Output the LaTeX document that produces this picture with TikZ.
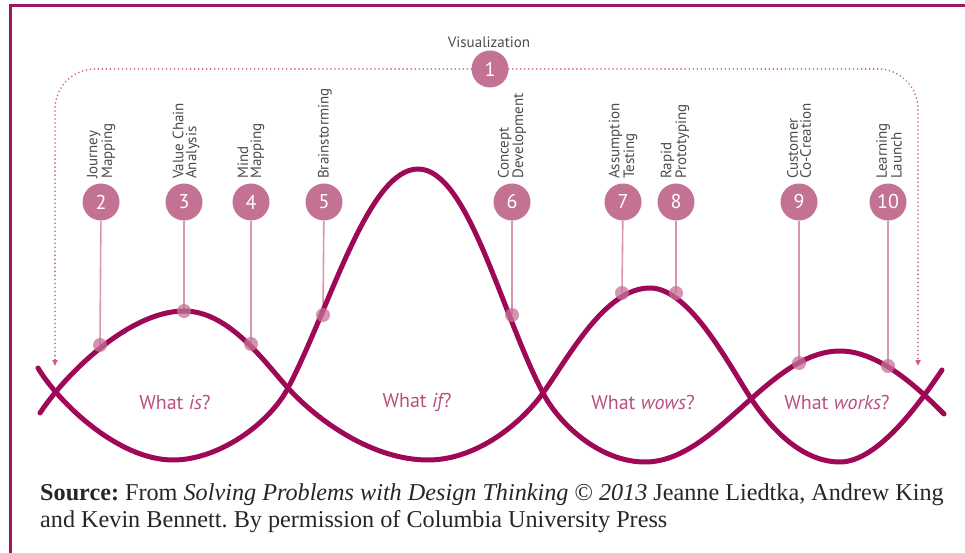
\documentclass[tikz,border=0pt]{standalone}
\usepackage{fontspec}
\setmainfont{Liberation Serif}
\setsansfont{PT Sans}
\usetikzlibrary{arrows.meta}
\definecolor{framec}{RGB}{155,25,95}
\definecolor{wavec}{RGB}{158,8,86}
\definecolor{bubblec}{RGB}{196,114,148}
\definecolor{pinc}{RGB}{214,150,178}
\definecolor{dotc}{RGB}{205,90,138}
\definecolor{phasec}{RGB}{184,80,128}
\definecolor{lblgray}{RGB}{75,75,75}
\begin{document}
\frenchspacing
\begin{tikzpicture}[x=1pt,y=-1pt,
  bubble/.style={circle,fill=bubblec,minimum size=37pt,inner sep=0pt,text=white,font=\sffamily\fontsize{20}{20}\selectfont},
  tool/.style={rotate=90,anchor=west,align=left,inner sep=0pt,text=lblgray,font=\sffamily\fontsize{15}{13}\selectfont},
  wave/.style={draw=wavec,line width=5pt,line cap=round},
  pinline/.style={draw=pinc,line width=1.6pt},
  hit/.style={circle,fill=bubblec,fill opacity=0.75,minimum size=14pt,inner sep=0pt},
  phaselbl/.style={text=phasec,font=\sffamily\fontsize{20}{20}\selectfont},
  dotline/.style={draw=dotc,line width=1.8pt,dash pattern=on 0.01pt off 4pt,line cap=round,rounded corners=40pt},
  framel/.style={draw=framec,line width=3pt},
  src/.style={anchor=base west,align=left,inner sep=0pt,text=black!85,font=\rmfamily\fontsize{24.2}{26.5}\selectfont}
]
\useasboundingbox (0,0) rectangle (965,553);
% frame
\coordinate (f1) at (10.5,553);
\coordinate (f2) at (10.5,6);
\coordinate (f3) at (965,6);
\draw[framel] (f1) -- (f2) -- (f3);

% visualization
\node[bubble] (b1) at (490,69) {1};
\node[text=lblgray,font=\sffamily\fontsize{15}{15}\selectfont] (vis) at (489,42) {Visualization};
\coordinate (la) at (55,366);
\coordinate (lc) at (55,69);
\coordinate (ra) at (918,366);
\coordinate (rc) at (918,69);
\draw[dotline,-{Triangle[length=6pt,width=5pt]}] (b1.west) -- (lc) -- (la);
\draw[dotline,-{Triangle[length=6pt,width=5pt]}] (b1.east) -- (rc) -- (ra);

% bubbles
\node[bubble] (b2) at (101,202) {2};
\node[bubble] (b3) at (184,202) {3};
\node[bubble] (b4) at (251,202) {4};
\node[bubble] (b5) at (324,202) {5};
\node[bubble] (b6) at (512,202) {6};
\node[bubble] (b7) at (623,202) {7};
\node[bubble] (b8) at (676,202) {8};
\node[bubble] (b9) at (799,202) {9};
\node[bubble] (b10) at (888,202) {10};

% tool labels
\node[tool] (t2) at (101,179) {Journey\\Mapping};
\node[tool] (t3) at (186,179) {Value Chain\\Analysis};
\node[tool] (t4) at (251,179) {Mind\\Mapping};
\node[tool] (t5) at (325,179) {Brainstorming};
\node[tool] (t6) at (512,179) {Concept\\Development};
\node[tool] (t7) at (623,179) {Assumption\\Testing};
\node[tool] (t8) at (675,179) {Rapid\\Prototyping};
\node[tool] (t9) at (799,179) {Customer\\Co-Creation};
\node[tool] (t10) at (889,179) {Learning\\Launch};

% hit points
\coordinate (h2) at (100,345);
\coordinate (h3) at (184,311);
\coordinate (h4) at (251,344);
\coordinate (h5) at (323,315);
\coordinate (h6) at (512,315);
\coordinate (h7) at (622,293);
\coordinate (h8) at (676,293);
\coordinate (h9) at (799,363);
\coordinate (h10) at (888,366);

\foreach \i in {2,...,10} {\draw[pinline] (b\i) -- (h\i);}

% wave Q (starts upper left)
\draw[wave] (38,368) .. controls (58.5,402.3) and (118,460) .. (173,460)
  .. controls (219,460) and (269.4,423.4) .. (288,388)
  .. controls (330,308) and (368,169) .. (418,169)
  .. controls (468,169) and (501,313) .. (543,393)
  .. controls (559,424) and (600,462) .. (645,462)
  .. controls (716,462) and (769,351) .. (840,351)
  .. controls (880,351) and (920,390) .. (944,414);
% wave P (starts lower left)
\draw[wave] (40,413) .. controls (64.5,375.3) and (129,311) .. (184,311)
  .. controls (229,311) and (264.5,362.1) .. (288,388)
  .. controls (318.3,421.3) and (373,460) .. (428,460)
  .. controls (478,460) and (522.7,421.5) .. (543,393)
  .. controls (569.2,356.4) and (605,288) .. (650,288)
  .. controls (690,288) and (729.8,366.7) .. (752,400)
  .. controls (768.7,425) and (800,462) .. (840,462)
  .. controls (880,462) and (925.1,394.8) .. (942,370);

\foreach \i in {2,...,10} {\node[hit] (d\i) at (h\i) {};}

% phase labels
\node[phaselbl] (p1) at (175,402) {What {\itshape is}?};
\node[phaselbl] (p2) at (417,402) {What {\itshape if}?};
\node[phaselbl] (p3) at (643,402) {What {\itshape wows}?};
\node[phaselbl] (p4) at (837,402) {What {\itshape works}?};

% source
\node[src] (s) at (40,527) {\textbf{Source:} From \textit{Solving Problems with Design Thinking} © \textit{2013} Jeanne Liedtka, Andrew King\\and Kevin Bennett. By permission of Columbia University Press};
\end{tikzpicture}
\end{document}
